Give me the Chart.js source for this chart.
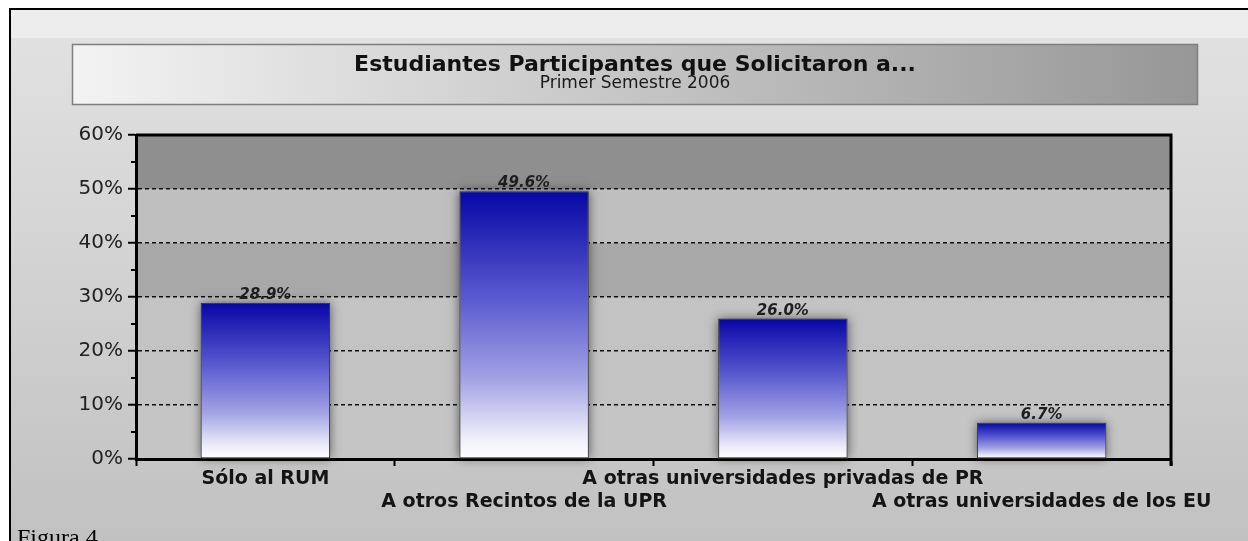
<!DOCTYPE html>
<html lang="es">
<head>
  <meta charset="UTF-8">
  <title>Estudiantes Participantes que Solicitaron a...</title>
  <script src="https://cdn.jsdelivr.net/npm/chart.js"></script>
  <style>
    html, body { margin: 0; padding: 0; background: #fff; }
    .wrap { width: 1248px; height: 541px; position: relative; }
  </style>
</head>
<body>
  <div class="wrap"><canvas id="chart"></canvas></div>

  <script>
    // data
    const categories = ['Sólo al RUM', 'A otros Recintos de la UPR', 'A otras universidades privadas de PR', 'A otras universidades de los EU'];
    const percents = [28.9, 49.6, 26.0, 6.7];
    const yTicks = [0, 10, 20, 30, 40, 50, 60];
    const titleText = 'Estudiantes Participantes que Solicitaron a...';
    const subtitleText = 'Primer Semestre 2006';

    const FONT = '"DejaVu Sans", "Liberation Sans", Arial, sans-serif';

    // plot area stripes, bottom to top
    const bandColors = ['#c5c5c5', '#c3c3c3', '#c3c3c3', '#a8a8a8', '#bfbfbf', '#8f8f8f'];

    // staggered category labels (two rows)
    const xLabels = categories.map((c, i) => i % 2 ? ['', c] : [c, '']);

    function barFill(ctx) {
      const chart = ctx.chart;
      if (!chart.chartArea || ctx.raw == null) return '#0000a0';
      const y = chart.scales.y;
      const top = y.getPixelForValue(ctx.raw), bottom = y.getPixelForValue(0);
      const g = chart.ctx.createLinearGradient(0, top, 0, bottom);
      g.addColorStop(0, '#0606a6');
      g.addColorStop(0.4, '#5a5ad0');
      g.addColorStop(0.7, '#a2a2e4');
      g.addColorStop(0.92, '#eeeefa');
      g.addColorStop(1, '#ffffff');
      return g;
    }

    const deco = {
      id: 'deco',
      beforeDraw(chart) {
        const { ctx, chartArea: a, scales: { y } } = chart;
        const W = chart.width, H = chart.height;
        ctx.save();
        ctx.fillStyle = '#fff';
        ctx.fillRect(0, 0, W, H);
        let g = ctx.createLinearGradient(0, 38, 0, H);
        g.addColorStop(0, '#e1e1e1');
        g.addColorStop(1, '#c1c1c1');
        ctx.fillStyle = g;
        ctx.fillRect(11, 38, W - 11, H - 38);
        ctx.fillStyle = '#ededed';
        ctx.fillRect(11, 10, W - 11, 28);
        ctx.fillStyle = '#000';
        ctx.fillRect(9, 8, W - 9, 2);
        ctx.fillRect(9, 8, 2, H - 8);

        // title box
        g = ctx.createLinearGradient(72, 0, 1198, 0);
        g.addColorStop(0, '#f3f3f3');
        g.addColorStop(1, '#979797');
        ctx.fillStyle = g;
        ctx.fillRect(72.5, 44.5, 1125, 60);
        ctx.strokeStyle = '#7e7e7e';
        ctx.lineWidth = 1.5;
        ctx.strokeRect(72.5, 44.5, 1125, 60);
        ctx.textAlign = 'center';
        ctx.textBaseline = 'alphabetic';
        ctx.fillStyle = '#111';
        ctx.font = 'bold 22px ' + FONT;
        ctx.fillText(titleText, 635, 71);
        ctx.fillStyle = '#1a1a1a';
        ctx.font = '17px ' + FONT;
        ctx.fillText(subtitleText, 635, 88);

        // stripes
        for (let i = 0; i < yTicks.length - 1; i++) {
          const t = y.getPixelForValue(yTicks[i + 1]), b = y.getPixelForValue(yTicks[i]);
          ctx.fillStyle = bandColors[i];
          ctx.fillRect(a.left, t, a.right - a.left, b - t);
        }
        ctx.restore();
      },
      beforeDatasetsDraw(chart) {
        // soft grey glow behind each bar
        const ctx = chart.ctx;
        ctx.save();
        ctx.shadowColor = 'rgba(0,0,0,0.55)';
        ctx.shadowBlur = 10;
        ctx.fillStyle = '#8a8a8a';
        chart.getDatasetMeta(0).data.forEach(bar => {
          const p = bar.getProps(['x', 'y', 'base', 'width'], true);
          ctx.fillRect(p.x - p.width / 2, p.y, p.width, p.base - p.y);
        });
        ctx.restore();
      },
      afterDatasetsDraw(chart) {
        const ctx = chart.ctx;
        ctx.save();
        ctx.font = 'italic bold 15px ' + FONT;
        ctx.fillStyle = '#1e1e1e';
        ctx.textAlign = 'center';
        ctx.textBaseline = 'alphabetic';
        chart.getDatasetMeta(0).data.forEach((bar, i) => {
          ctx.fillText(percents[i].toFixed(1) + '%', bar.x, bar.y - 4);
        });
        ctx.restore();
      },
      afterDraw(chart) {
        const { ctx, chartArea: a, scales: { y } } = chart;
        ctx.save();
        ctx.strokeStyle = '#000';
        // top and right frame of plot
        ctx.lineWidth = 3;
        ctx.beginPath();
        ctx.moveTo(a.left, a.top);
        ctx.lineTo(a.right, a.top);
        ctx.lineTo(a.right, a.bottom + 7);
        ctx.stroke();
        // minor ticks at 5%
        ctx.lineWidth = 2;
        for (let v = 5; v < 60; v += 10) {
          const yy = y.getPixelForValue(v);
          ctx.beginPath();
          ctx.moveTo(a.left - 5, yy);
          ctx.lineTo(a.left, yy);
          ctx.stroke();
        }
        ctx.fillStyle = '#000';
        ctx.font = '24px "Liberation Serif", "Times New Roman", serif';
        ctx.textAlign = 'left';
        ctx.textBaseline = 'alphabetic';
        ctx.fillText('Figura 4', 17, 545);
        ctx.restore();
      }
    };

    new Chart(document.getElementById('chart'), {
      type: 'bar',
      data: {
        labels: xLabels,
        datasets: [{
          data: percents,
          backgroundColor: barFill,
          borderColor: '#3a3a3a',
          borderWidth: 1,
          borderSkipped: false,
          barPercentage: 1,
          categoryPercentage: 0.5
        }]
      },
      options: {
        responsive: true,
        maintainAspectRatio: false,
        animation: false,
        layout: { padding: { left: 72, right: 77, top: 135, bottom: 22 } },
        plugins: {
          legend: { display: false },
          tooltip: { enabled: false },
          title: { display: false }
        },
        scales: {
          x: {
            afterFit: s => { s.height = 60; },
            grid: { offset: true, drawOnChartArea: false, drawTicks: true, tickLength: 7, tickWidth: 2, tickColor: '#000' },
            border: { color: '#000', width: 3 },
            ticks: {
              autoSkip: false, maxRotation: 0, minRotation: 0, padding: 2,
              color: '#141414',
              font: { family: FONT, size: 19, weight: 'bold', lineHeight: 1.21 }
            }
          },
          y: {
            min: 0, max: 60,
            afterFit: s => { s.width = 64; },
            grid: {
              color: c => (c.tick && c.tick.value > 0 && c.tick.value < 60) ? '#111' : 'rgba(0,0,0,0)',
              lineWidth: 1.5,
              tickLength: 8, tickWidth: 2, tickColor: '#000', tickBorderDash: []
            },
            border: { color: '#000', width: 3, dash: [4, 3] },
            ticks: {
              stepSize: 10, padding: 5,
              color: '#222',
              font: { family: FONT, size: 20 },
              callback: v => v + '%'
            }
          }
        }
      },
      plugins: [deco]
    });
  </script>
</body>
</html>
